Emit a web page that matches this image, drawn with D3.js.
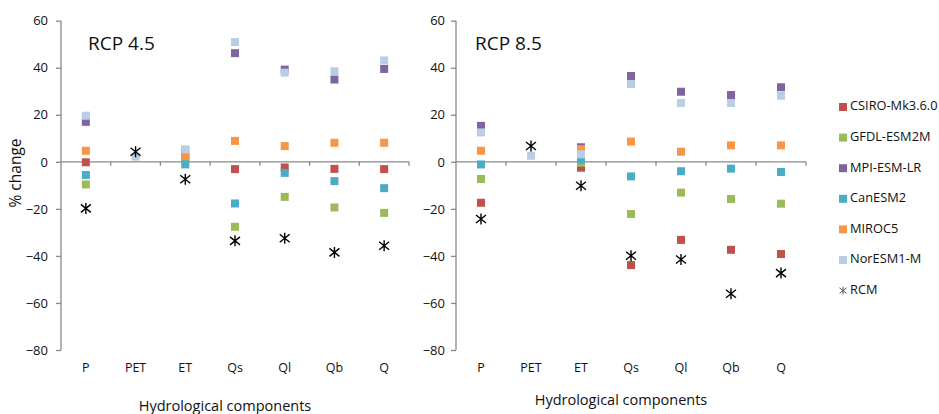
<!DOCTYPE html>
<html>
<head>
<meta charset="utf-8">
<script src="https://cdn.jsdelivr.net/npm/d3@7"></script>
<style>
  html, body { margin: 0; padding: 0; background: #fff; }
  svg { display: block; font-family: "Open Sans", "Liberation Sans", sans-serif; }
</style>
</head>
<body>
<svg id="chart" width="939" height="414"></svg>
<script>
// Hydrological components on the x axis
const categories = ["P", "PET", "ET", "Qs", "Ql", "Qb", "Q"];
const yTicks = [-80, -60, -40, -20, 0, 20, 40, 60];

// Model names and colours (legend order)
const models = ["CSIRO-Mk3.6.0", "GFDL-ESM2M", "MPI-ESM-LR", "CanESM2", "MIROC5", "NorESM1-M", "RCM"];
const modelColors = ["#C0504D", "#9BBB59", "#8064A2", "#4BACC6", "#F79646", "#B9CDE5", "#000000"];

// RCP 4.5 – % change per component
const rcp45_csiro = [-0.2, null, 1.7, -3.1, -2.4, -3.0, -3.1];
const rcp45_gfdl  = [-9.6, null, 0.8, -27.6, -14.9, -19.4, -21.7];
const rcp45_mpi   = [17.0, null, 4.8, 46.2, 39.2, 35.0, 39.5];
const rcp45_can   = [-5.6, null, -1.1, -17.7, -4.7, -8.2, -11.2];
const rcp45_miroc = [4.7, null, 2.6, 8.9, 6.7, 8.1, 8.1];
const rcp45_nor   = [19.6, 2.2, 5.3, 50.9, 37.9, 38.5, 43.1];
const rcp45_rcm   = [-19.8, 4.3, -7.4, -33.6, -32.5, -38.5, -35.7];

// RCP 8.5 – % change per component
const rcp85_csiro = [-17.4, null, -2.5, -43.9, -33.2, -37.4, -39.2];
const rcp85_gfdl  = [-7.3, null, -0.4, -22.2, -13.1, -15.8, -17.8];
const rcp85_mpi   = [15.3, null, 6.2, 36.5, 29.8, 28.4, 31.7];
const rcp85_can   = [-1.1, null, 1.0, -6.2, -4.0, -2.9, -4.3];
const rcp85_miroc = [4.7, null, 5.4, 8.6, 4.3, 7.0, 7.0];
const rcp85_nor   = [12.5, 2.6, 3.2, 33.1, 25.0, 25.0, 28.1];
const rcp85_rcm   = [-24.3, 6.7, -10.2, -39.9, -41.5, -56.1, -47.3];

const panels = [
  { title: "RCP 4.5", x0: 61, x1: 409, tickLabelEnd: 48, titleX: 88, xTitleY: 407, showYTitle: true,
    series: [rcp45_csiro, rcp45_gfdl, rcp45_mpi, rcp45_can, rcp45_miroc, rcp45_nor, rcp45_rcm] },
  { title: "RCP 8.5", x0: 456, x1: 806, tickLabelEnd: 445, titleX: 475, xTitleY: 401, showYTitle: false,
    series: [rcp85_csiro, rcp85_gfdl, rcp85_mpi, rcp85_can, rcp85_miroc, rcp85_nor, rcp85_rcm] }
];

const svg = d3.select("#chart");
const axisColor = "#898989";
const textColor = "#111";
const sq = 8;

const y = d3.scaleLinear().domain([-80, 60]).range([350, 20.7]);

// six-armed asterisk used for the RCM marker
function starPath(r) {
  const h = r * 1.1, dx = r, dy = r * 0.8;
  return `M0,${-h}V${h}M${-dx},${-dy}L${dx},${dy}M${-dx},${dy}L${dx},${-dy}`;
}

panels.forEach(p => {
  const g = svg.append("g");
  const x = d3.scaleBand().domain(categories).range([p.x0, p.x1]).padding(0);

  // y axis
  const yAxis = g.append("g")
    .attr("transform", `translate(${p.x0},0)`)
    .call(d3.axisLeft(y).tickValues(yTicks).tickSize(5).tickPadding(p.x0 - 5 - p.tickLabelEnd));
  yAxis.select(".domain").attr("stroke", axisColor).attr("stroke-width", 1.3)
    .attr("d", `M0,${y(60)}V${y(-80)}`);
  yAxis.selectAll(".tick line").attr("stroke", axisColor).attr("stroke-width", 1.3);
  yAxis.selectAll(".tick text").attr("fill", textColor).attr("font-size", 13)
    .attr("font-family", "'Open Sans', sans-serif");

  // category axis at zero, ticks between categories
  const y0 = y(0);
  g.append("line").attr("x1", p.x0).attr("x2", p.x1).attr("y1", y0).attr("y2", y0)
    .attr("stroke", axisColor).attr("stroke-width", 1.3);
  const bounds = categories.map(c => x(c) + x.bandwidth());
  g.selectAll(".xtick").data(bounds).join("line")
    .attr("x1", d => d).attr("x2", d => d).attr("y1", y0).attr("y2", y0 + 4)
    .attr("stroke", axisColor).attr("stroke-width", 1.3);
  g.selectAll(".xlab").data(categories).join("text")
    .attr("x", d => x(d) + x.bandwidth() / 2).attr("y", 369)
    .attr("text-anchor", "middle").attr("dominant-baseline", "middle")
    .attr("font-size", 12.5).attr("fill", textColor).text(d => d);

  // axis titles and panel title
  g.append("text").attr("x", (p.x0 + p.x1) / 2 - 10).attr("y", p.xTitleY)
    .attr("text-anchor", "middle").attr("dominant-baseline", "middle")
    .attr("font-size", 14.5).attr("fill", textColor).text("Hydrological components");
  g.append("text").attr("x", p.titleX).attr("y", 45)
    .attr("dominant-baseline", "middle").attr("font-size", 19).attr("fill", textColor).text(p.title);
  if (p.showYTitle) {
    g.append("text").attr("transform", `translate(17,173) rotate(-90)`)
      .attr("text-anchor", "middle").attr("dominant-baseline", "middle")
      .attr("font-size", 15.5).attr("fill", textColor).text("% change");
  }

  // GCM squares, in legend order so later models sit on top
  p.series.slice(0, 6).forEach((vals, i) => {
    const pts = categories.map((c, k) => ({ c, v: vals[k] })).filter(d => d.v !== null);
    g.append("g").selectAll("rect").data(pts).join("rect")
      .attr("x", d => x(d.c) + x.bandwidth() / 2 - sq / 2)
      .attr("y", d => y(d.v) - sq / 2)
      .attr("width", sq).attr("height", sq)
      .attr("fill", modelColors[i]);
  });

  // RCM asterisks
  const rcm = categories.map((c, k) => ({ c, v: p.series[6][k] })).filter(d => d.v !== null);
  g.append("g").selectAll("path").data(rcm).join("path")
    .attr("transform", d => `translate(${x(d.c) + x.bandwidth() / 2},${y(d.v)})`)
    .attr("d", starPath(5)).attr("stroke", "#000").attr("stroke-width", 1.4).attr("fill", "none");
});

// legend
const legend = svg.append("g");
models.forEach((m, i) => {
  const ly = 107 + i * 30.6;
  const item = legend.append("g").attr("transform", `translate(843,${ly})`);
  if (i < 6) {
    item.append("rect").attr("x", -4).attr("y", -4).attr("width", sq).attr("height", sq)
      .attr("fill", modelColors[i]);
  } else {
    item.append("path").attr("d", starPath(3.5)).attr("stroke", "#555")
      .attr("stroke-width", 1).attr("fill", "none");
  }
  item.append("text").attr("x", 7).attr("y", 0).attr("dominant-baseline", "middle")
    .attr("font-size", 12.8).attr("fill", textColor).text(m);
});
</script>
</body>
</html>
